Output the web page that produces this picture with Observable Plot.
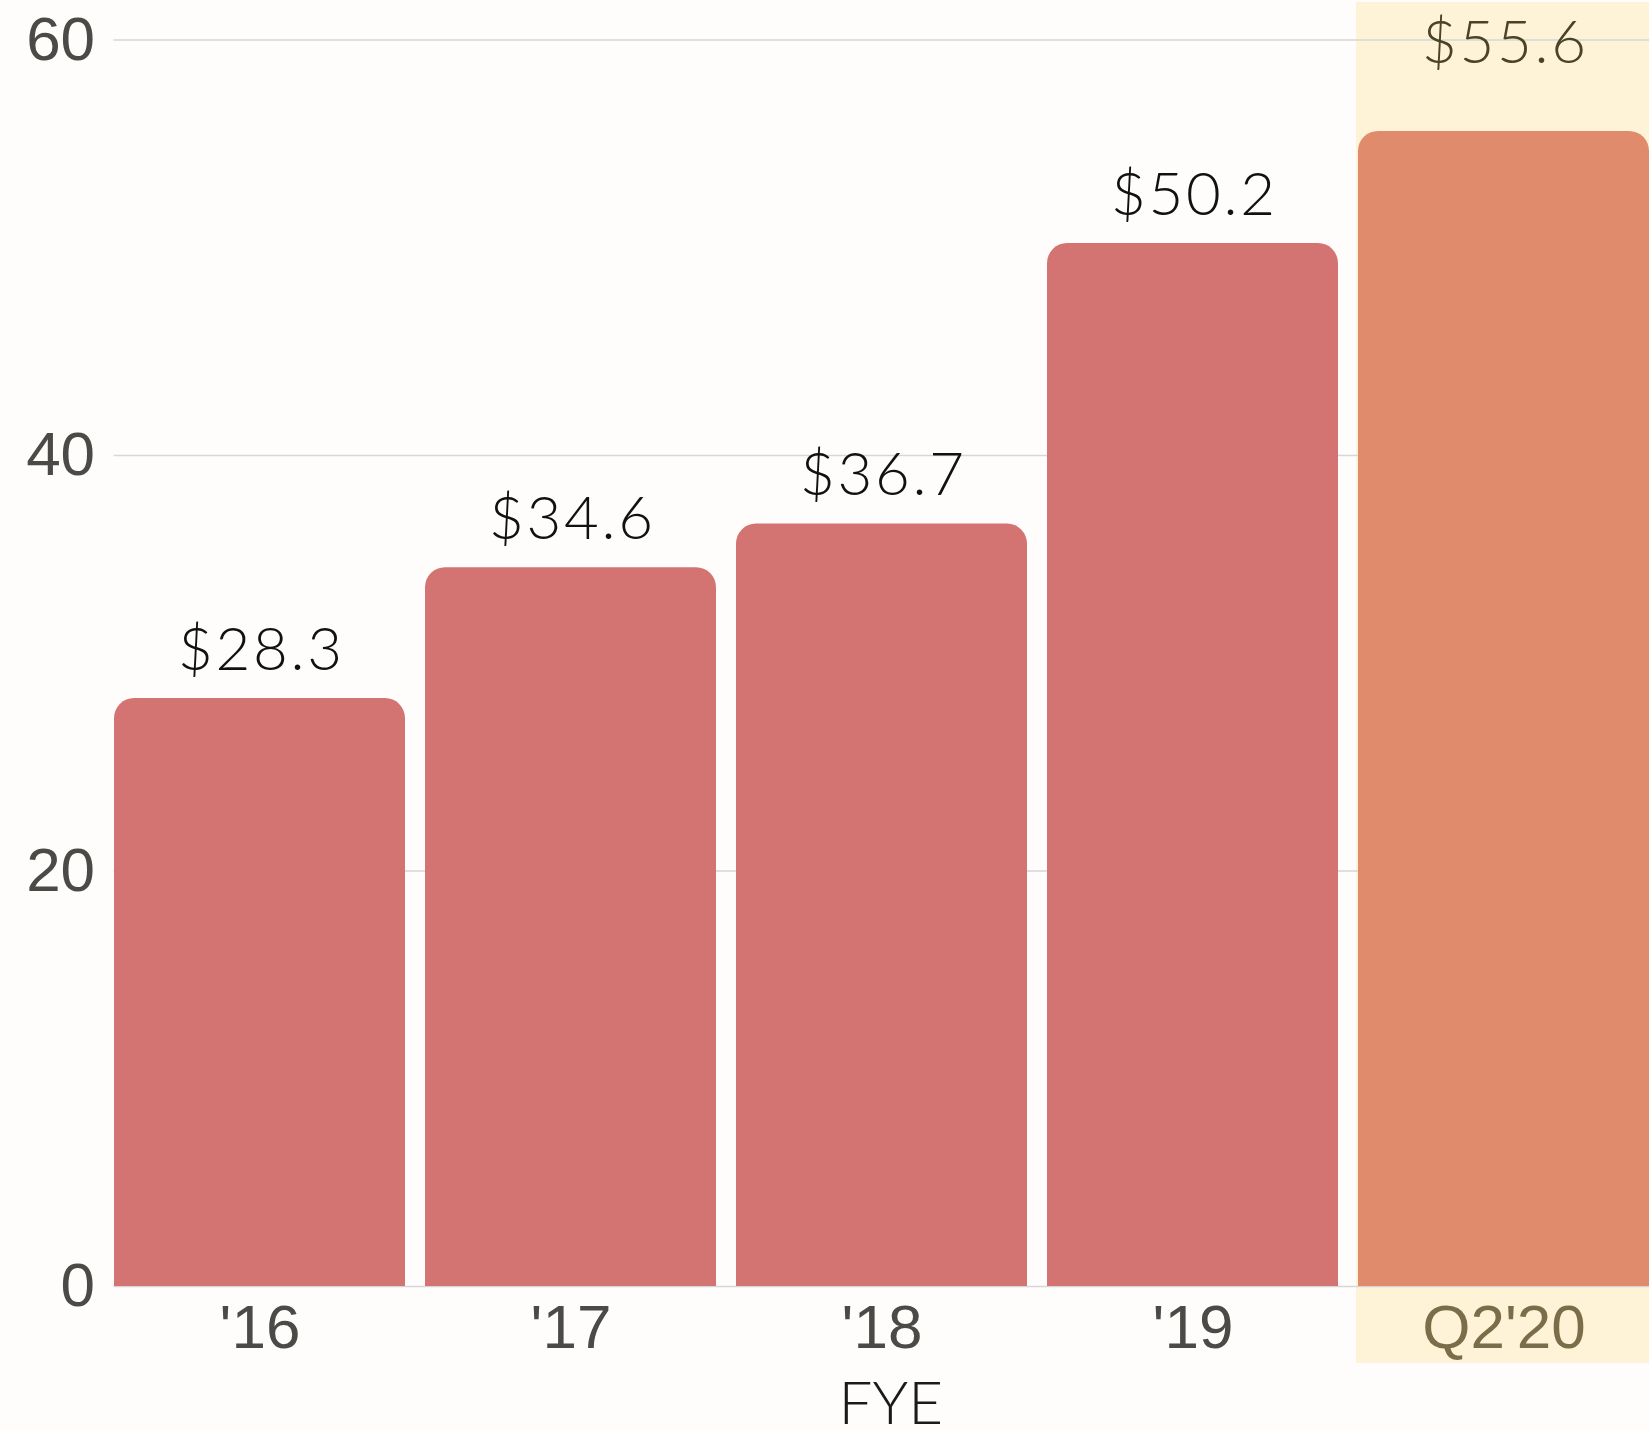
<!DOCTYPE html>
<html>
<head>
<meta charset="utf-8">
<script src="https://cdn.jsdelivr.net/npm/d3@7"></script>
<script src="https://cdn.jsdelivr.net/npm/@observablehq/plot@0.6"></script>
<style>
  html, body { margin: 0; padding: 0; background: #fffcfc; overflow: hidden; }
</style>
</head>
<body>
<div id="chart"></div>
<script>
const categories = ["'16", "'17", "'18", "'19", "Q2'20"];
const values = [28.3, 34.6, 36.7, 50.2, 55.6];
const valueLabels = ["$28.3", "$34.6", "$36.7", "$50.2", "$55.6"];
const yTicks = [0, 20, 40, 60];
const highlight = "Q2'20";
const xLabel = "FYE";

const data = categories.map((c, i) => ({cat: c, value: values[i], label: valueLabels[i]}));
const normal = data.filter(d => d.cat !== highlight);
const last = data.filter(d => d.cat === highlight);

const barColor = d => d.cat === highlight ? "#df8b6c" : "#d37473";

const chart = Plot.plot({
  width: 1649,
  height: 1431,
  marginTop: 39.5,
  marginBottom: 145,
  marginLeft: 113.6,
  marginRight: 0,
  style: {background: "#fffcfc", fontFamily: "'Liberation Sans', Arial, sans-serif"},
  x: {domain: categories, paddingInner: 0.0642, paddingOuter: 0, axis: null},
  y: {domain: [0, 60], axis: null},
  marks: [
    Plot.cell([highlight], {x: d => d, fill: "#fef3d6", insetTop: -37.5, insetBottom: -77, insetLeft: -2, insetRight: -2}),
    Plot.gridY(yTicks, {stroke: "#d6d6d6", strokeOpacity: 1, strokeWidth: 1.5}),
    Plot.barY(data, {x: "cat", y: "value", fill: barColor, rx: 20}),
    Plot.barY(data, {x: "cat", y: "value", fill: barColor, insetTop: 20}),
    Plot.text(normal, {x: "cat", y: "value", text: "label", fontSize: 60, fontFamily: "Lato", fontWeight: 300, fill: "#111111", dy: -48, dx: 1.4}),
    Plot.text(last, {x: "cat", y: "value", text: "label", fontSize: 60, fontFamily: "Lato", fontWeight: 300, fill: "#4b4325", dy: -88, dx: 1.4}),
    Plot.axisY(yTicks, {tickSize: 0, tickPadding: 19, fontSize: 62, fill: "#4a4a46", tickFormat: d => String(d), label: null}),
    Plot.text(categories, {x: d => d, frameAnchor: "bottom", lineAnchor: "top", dy: 17, fontSize: 62,
      fill: d => d === highlight ? "#7a6e4a" : "#4a4a46"}),
    Plot.text([xLabel], {frameAnchor: "bottom", lineAnchor: "top", dy: 95, dx: 9, fontSize: 60, fontFamily: "Lato", fontWeight: 300, fill: "#1a1a1a"})
  ]
});
d3.select(chart).selectAll("text").filter(function() { return this.textContent.startsWith("$"); })
  .style("letter-spacing", "2.7px");
document.getElementById("chart").appendChild(chart);
</script>
</body>
</html>
